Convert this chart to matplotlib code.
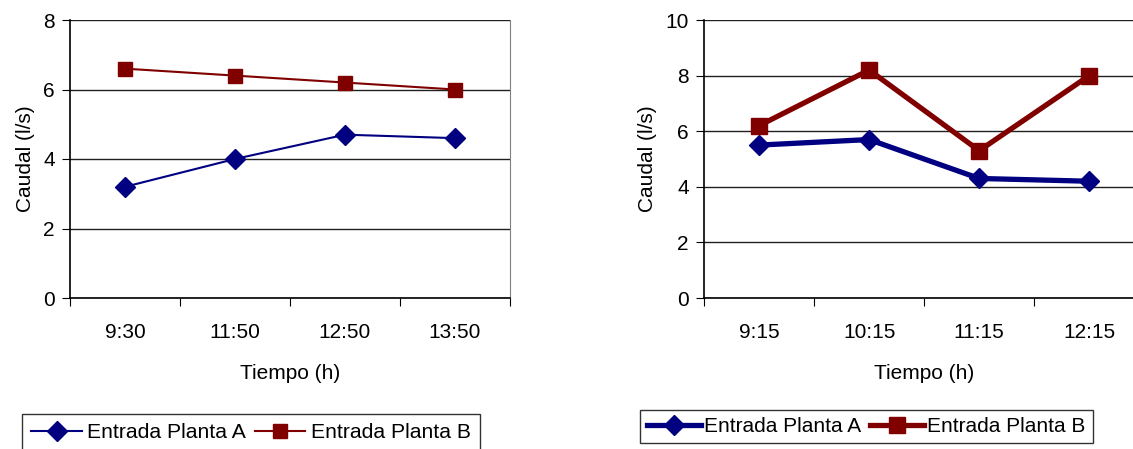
import matplotlib.pyplot as plt
import numpy as np

plt.rcParams['font.family'] = ['Liberation Sans', 'DejaVu Sans']

# chart 1
horas_1 = ["9:30", "11:50", "12:50", "13:50"]
planta_a_1 = [3.2, 4.0, 4.7, 4.6]
planta_b_1 = [6.6, 6.4, 6.2, 6.0]

# chart 2
horas_2 = ["9:15", "10:15", "11:15", "12:15"]
planta_a_2 = [5.5, 5.7, 4.3, 4.2]
planta_b_2 = [6.2, 8.2, 5.3, 8.0]

azul = "#000080"
rojo = "#800000"
fs = 15

fig = plt.figure(figsize=(11.33, 4.49), dpi=100)
ax1 = fig.add_axes([70/1133, 1 - 298/449, 440/1133, 278/449])
ax2 = fig.add_axes([704/1133, 1 - 298/449, 1 - 704/1133 + 0.01, 278/449])


def dibujar(ax, horas, a, b, ymax, lw, ms_d, ms_s):
    x = np.arange(len(horas)) + 0.5
    la, = ax.plot(x, a, color=azul, lw=lw, marker="D", ms=ms_d, label="Entrada Planta A")
    lb, = ax.plot(x, b, color=rojo, lw=lw, marker="s", ms=ms_s, label="Entrada Planta B")
    ax.set_xlim(0, len(horas))
    ax.set_ylim(0, ymax)
    ax.set_yticks(np.arange(0, ymax + 1, 2))
    ax.set_xticks(np.arange(0, len(horas) + 1))
    ax.set_xticklabels([])
    ax.set_xticks(x, minor=True)
    ax.set_xticklabels(horas, minor=True)
    ax.tick_params(axis="x", which="minor", length=0, pad=18, labelsize=fs)
    ax.tick_params(axis="x", which="major", length=6, direction="out", color="black")
    ax.tick_params(axis="y", length=6, direction="out", labelsize=fs, pad=5)
    ax.grid(axis="y", color="#202020", lw=1)
    ax.set_axisbelow(True)
    for s in ["left", "bottom"]:
        ax.spines[s].set_color("black")
        ax.spines[s].set_linewidth(1.2)
    ax.spines["top"].set_visible(False)
    ax.spines["right"].set_color("#808080")
    ax.set_xlabel("Tiempo (h)", fontsize=fs, labelpad=16)
    ax.set_ylabel("Caudal (l/s)", fontsize=fs, labelpad=6)
    return la, lb


h1 = dibujar(ax1, horas_1, planta_a_1, planta_b_1, 8, 1.5, 10, 10)
h2 = dibujar(ax2, horas_2, planta_a_2, planta_b_2, 10, 3.8, 10, 11)
ax2.spines["right"].set_visible(False)

leg1 = fig.legend(h1, [h.get_label() for h in h1], loc="upper left",
                  bbox_to_anchor=(22/1133, 1 - 414/449),
                  ncol=2, fontsize=15.2, frameon=True, fancybox=False, edgecolor="black",
                  handlelength=2.4, handletextpad=0.25, columnspacing=0.4,
                  borderpad=0.45, borderaxespad=0)
leg1.get_frame().set_linewidth(1)

leg2 = fig.legend(h2, [h.get_label() for h in h2], loc="upper left",
                  bbox_to_anchor=(640/1133, 1 - 410/449),
                  ncol=2, fontsize=fs, frameon=True, fancybox=False, edgecolor="black",
                  handlelength=2.6, handletextpad=0.15, columnspacing=0.4,
                  borderpad=0.34, borderaxespad=0)
leg2.get_frame().set_linewidth(1)

fig.savefig("out.png", dpi=100)
